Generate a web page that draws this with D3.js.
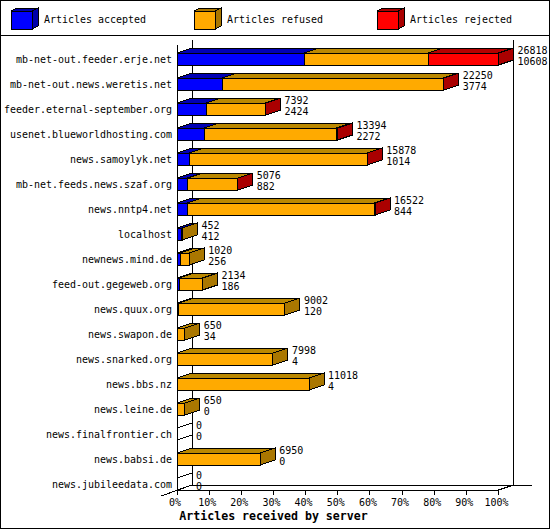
<!DOCTYPE html>
<html lang="en">
<head>
<meta charset="UTF-8">
<title>Articles received by server</title>
<script src="https://d3js.org/d3.v7.min.js"></script>
<style>
    html, body { margin: 0; padding: 0; background: #fff; }
    svg { display: block; shape-rendering: crispEdges; }
    text { font-family: "DejaVu Sans Mono", monospace; font-size: 9.97px; fill: #000; }
    .title { font-weight: bold; font-size: 11.6px; }
</style>
</head>
<body>
<script>
const servers = ["mb-net-out.feeder.erje.net", "mb-net-out.news.weretis.net", "feeder.eternal-september.org",
    "usenet.blueworldhosting.com", "news.samoylyk.net", "mb-net.feeds.news.szaf.org", "news.nntp4.net",
    "localhost", "newnews.mind.de", "feed-out.gegeweb.org", "news.quux.org", "news.swapon.de",
    "news.snarked.org", "news.bbs.nz", "news.leine.de", "news.finalfrontier.ch", "news.babsi.de", "news.jubileedata.com"]
const offered = [26818, 22250, 7392, 13394, 15878, 5076, 16522, 452, 1020, 2134, 9002, 650, 7998, 11018, 650, 0, 6950, 0]
const accepted = [10608, 3774, 2424, 2272, 1014, 882, 844, 412, 256, 186, 120, 34, 4, 4, 0, 0, 0, 0]
const rejected = [5870, 20, 40, 130, 10, 10, 60, 0, 0, 0, 0, 0, 0, 0, 0, 0, 0, 0]
const refused = offered.map((d, i) => d - accepted[i] - rejected[i])
const ticks = [0, 10, 20, 30, 40, 50, 60, 70, 80, 90, 100]

const legendItems = ["Articles accepted", "Articles refused", "Articles rejected"]
const colors = [["#0000ff", "#0000aa"], ["#ffaa00", "#aa7700"], ["#ff0000", "#aa0000"]]
const topColors = ["#0000b4", "#bb8800", "#b40000"]

const width = 550, height = 530
const depthX = 15, depthY = 5
const left = 177, plotTop = 45, bottom = 490

const svg = d3.select("body").append("svg").attr("width", width).attr("height", height)

svg.append("rect").attr("width", width).attr("height", height).attr("fill", "#fff")

const x = d3.scaleLinear().domain([0, 100]).range([left, 498.5])
const y = d3.scaleBand().domain(servers).range([plotTop - 1, plotTop - 1 + 25 * servers.length])
const pct = v => v / d3.max(offered) * 100

function line(x1, y1, x2, y2) {
    svg.append("line").attr("x1", x1).attr("y1", y1).attr("x2", x2).attr("y2", y2).attr("stroke", "#000")
}

// frame
svg.append("rect").attr("x", 0.5).attr("y", 0.5).attr("width", width - 1.5).attr("height", height - 2)
    .attr("fill", "none").attr("stroke", "#000")
line(0, 35, width - 1, 35)

// legend
const legendX = [11, 194, 377]
legendItems.forEach((name, i) => {
    const g = svg.append("g").attr("transform", `translate(${legendX[i]},11)`)
    g.append("path").attr("d", "M21 0 L27 -3 L27 15 L21 18 Z").attr("fill", colors[i][1]).attr("stroke", "#000")
    g.append("path").attr("d", "M0 0 L6 -3 L27 -3 L21 0 Z").attr("fill", colors[i][1]).attr("stroke", "#000")
    g.append("rect").attr("width", 21).attr("height", 18).attr("fill", colors[i][0]).attr("stroke", "#000")
    g.append("text").attr("x", 33).attr("y", 12).text(name)
})

// walls
line(left + depthX, plotTop - depthY, left + depthX, bottom - depthY)
line(x(100) + depthX, plotTop - depthY, x(100) + depthX, bottom - depthY)
line(left + depthX, bottom - depthY, 532, bottom - depthY)
line(left, bottom, x(100), bottom)
line(x(100), bottom, x(100) + depthX, bottom - depthY)
line(161, 496, left + depthX, bottom - depthY)

// x axis
ticks.forEach(t => {
    line(x(t), bottom, x(t), bottom + 5)
    svg.append("text").attr("x", x(t) - 2).attr("y", bottom + 16).attr("text-anchor", "middle").text(t + "%")
})
svg.append("text").attr("class", "title").attr("x", 273.5).attr("y", 520).attr("text-anchor", "middle")
    .text("Articles received by server")

// bars
const barH = 12
servers.forEach((s, i) => {
    const by = y(s) + 9
    const parts = [accepted[i], refused[i], rejected[i]]
    svg.append("text").attr("x", 172).attr("y", by + 10).attr("text-anchor", "end").text(s)
    let sum = 0, lastColor = -1
    parts.forEach((v, k) => {
        if (v <= 0) return
        const x0 = x(pct(sum)), x1 = x(pct(sum + v))
        sum += v
        lastColor = k
        svg.append("path")
            .attr("d", `M${x0} ${by} L${x0 + depthX} ${by - depthY} L${x1 + depthX} ${by - depthY} L${x1} ${by} Z`)
            .attr("fill", topColors[k]).attr("stroke", "#000")
        svg.append("rect").attr("x", x0).attr("y", by).attr("width", x1 - x0).attr("height", barH)
            .attr("fill", colors[k][0]).attr("stroke", "#000")
    })
    const xe = x(pct(sum))
    if (lastColor >= 0) {
        svg.append("path")
            .attr("d", `M${xe} ${by} L${xe + depthX} ${by - depthY} L${xe + depthX} ${by + barH - depthY} L${xe} ${by + barH} Z`)
            .attr("fill", colors[lastColor][1]).attr("stroke", "#000")
    } else {
        // empty bar: only the two slanted edges are left
        line(left, by, left + depthX, by - depthY)
        line(left, by + barH, left + depthX, by + barH - depthY)
    }
    svg.append("text").attr("x", xe + depthX + 4).attr("y", by + 1).text(offered[i])
    svg.append("text").attr("x", xe + depthX + 4).attr("y", by + 12).text(accepted[i])
})

line(left, plotTop, left, bottom)
</script>
</body>
</html>
